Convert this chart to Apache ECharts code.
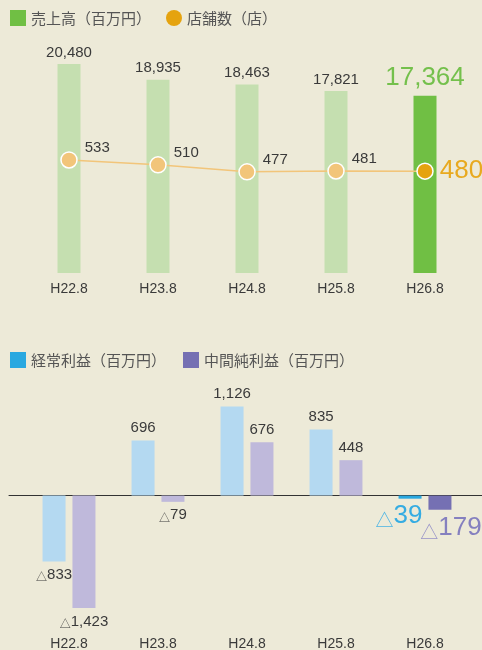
<!DOCTYPE html>
<html>
<head>
<meta charset="utf-8">
<script src="https://cdn.jsdelivr.net/npm/echarts@6/dist/echarts.min.js"></script>
<style>
  html, body { margin: 0; padding: 0; background: #edead8; }
  #chart { width: 482px; height: 650px; }
</style>
</head>
<body>
<div id="chart"></div>
<script>
const categories = ['H22.8', 'H23.8', 'H24.8', 'H25.8', 'H26.8'];
const sales = [20480, 18935, 18463, 17821, 17364];
const stores = [533, 510, 477, 481, 480];
const ordinaryProfit = [-833, 696, 1126, 835, -39];
const netProfit = [-1423, -79, 676, 448, -179];

const NUM_FONT = "'Liberation Sans', Arial, sans-serif";
const CJK_FONT = "'Noto Sans CJK JP', 'Noto Sans', sans-serif";
const last = categories.length - 1;

const fmt = (v) => Math.abs(v).toLocaleString('en-US');
// 負の値は △ 付き
const profitLabel = (p) => p.value < 0 ? '{t|△}{v|' + fmt(p.value) + '}' : '{v|' + fmt(p.value) + '}';

const smallRich = {
  t: { fontFamily: CJK_FONT, fontSize: 11, color: '#3a3a3a', lineHeight: 16, verticalAlign: 'bottom' },
  v: { fontFamily: NUM_FONT, fontSize: 15, color: '#3a3a3a', lineHeight: 16, verticalAlign: 'bottom' },
};
const bigRich = (color, triColor) => ({
  t: { fontFamily: CJK_FONT, fontSize: 18, color: triColor, lineHeight: 26, verticalAlign: 'bottom' },
  v: { fontFamily: NUM_FONT, fontSize: 26, color: color, lineHeight: 26, verticalAlign: 'bottom' },
});

const salesData = sales.map((v, i) => i === last
  ? { value: v, label: { fontSize: 26, color: '#74c04c', distance: 5 } }
  : { value: v, itemStyle: { color: '#c5dfb0' } });

const storesData = stores.map((v, i) => i === last
  ? { value: v, label: { fontSize: 26, color: '#e8a91f', offset: [0, 0], distance: 6 } }
  : { value: v, itemStyle: { color: '#f2c57a' } });

const profitData = (arr, light, bigColor, triColor, dx, dist) => arr.map((v, i) => {
  const item = { value: v, label: { position: v < 0 ? 'bottom' : 'top' } };
  if (i === last) {
    item.label.rich = bigRich(bigColor, triColor);
    item.label.offset = [dx, 0];
    item.label.distance = dist;
  } else {
    item.itemStyle = { color: light };
  }
  return item;
});

const chart = echarts.init(document.getElementById('chart'), null, { renderer: 'canvas' });

chart.setOption({
  backgroundColor: '#edead8',
  animation: false,
  legend: [
    {
      data: ['売上高（百万円）', { name: '店舗数（店）', icon: 'circle' }],
      left: 10, top: 10, padding: 0, itemWidth: 16, itemHeight: 16, itemGap: 15,
      icon: 'rect', itemStyle: { borderWidth: 0 },
      textStyle: { fontFamily: CJK_FONT, fontSize: 15, color: '#555' },
    },
    {
      data: ['経常利益（百万円）', '中間純利益（百万円）'],
      left: 10, top: 352, padding: 0, itemWidth: 16, itemHeight: 16, itemGap: 17,
      icon: 'rect',
      textStyle: { fontFamily: CJK_FONT, fontSize: 15, color: '#555' },
    },
  ],
  grid: [
    { left: 24.5, right: 12.5, top: 28, height: 245, outerBoundsMode: 'none' },
    { left: 24.5, right: 12.5, top: 377, height: 253, outerBoundsMode: 'none' },
    { left: 9, right: 0, top: 377, height: 253, outerBoundsMode: 'none' },
  ],
  xAxis: [
    {
      gridIndex: 0, type: 'category', data: categories,
      axisLine: { show: false }, axisTick: { show: false },
      axisLabel: { margin: 9, fontFamily: NUM_FONT, fontSize: 14, color: '#3a3a3a' },
    },
    {
      gridIndex: 1, type: 'category', data: categories,
      axisLine: { show: false, onZero: false }, axisTick: { show: false },
      axisLabel: { margin: 7, fontFamily: NUM_FONT, fontSize: 14, color: '#3a3a3a' },
    },
    {
      // ゼロライン
      gridIndex: 2, type: 'value', min: 0, max: 1,
      axisLine: { show: true, onZero: true, lineStyle: { color: '#333', width: 1 } },
      axisTick: { show: false }, axisLabel: { show: false }, splitLine: { show: false },
    },
  ],
  yAxis: [
    { gridIndex: 0, type: 'value', min: 0, max: 24000, show: false, splitLine: { show: false } },
    { gridIndex: 0, type: 'value', min: 0, max: 1155, show: false, splitLine: { show: false } },
    { gridIndex: 1, type: 'value', min: -1700, max: 1500, show: false, splitLine: { show: false } },
    { gridIndex: 2, type: 'value', min: -1700, max: 1500, show: false, splitLine: { show: false } },
  ],
  series: [
    {
      name: '売上高（百万円）', type: 'bar', xAxisIndex: 0, yAxisIndex: 0,
      barWidth: 23, data: salesData,
      itemStyle: { color: '#70bf44' },
      label: {
        show: true, position: 'top', distance: 4,
        fontFamily: NUM_FONT, fontSize: 15, color: '#3a3a3a',
        formatter: (p) => fmt(p.value),
      },
    },
    {
      name: '店舗数（店）', type: 'line', xAxisIndex: 0, yAxisIndex: 1,
      data: storesData, symbol: 'circle', symbolSize: 16,
      itemStyle: { color: '#e5a30f', borderColor: '#fff', borderWidth: 1.5 },
      lineStyle: { color: '#f2c57a', width: 1.5 },
      label: {
        show: true, position: 'right', distance: 7, offset: [0, -12],
        fontFamily: NUM_FONT, fontSize: 15, color: '#3a3a3a',
      },
      z: 3,
    },
    {
      name: '経常利益（百万円）', type: 'bar', xAxisIndex: 1, yAxisIndex: 2,
      barWidth: 23, barGap: '30%',
      data: profitData(ordinaryProfit, '#b4d9f1', '#35ace2', '#4bb4e4', -11, 4),
      itemStyle: { color: '#29a8e0' },
      label: { show: true, distance: 5, formatter: profitLabel, rich: smallRich },
    },
    {
      name: '中間純利益（百万円）', type: 'bar', xAxisIndex: 1, yAxisIndex: 2,
      barWidth: 23, barGap: '30%',
      data: profitData(netProfit, '#bfb9db', '#8580bf', '#9893c8', 11, 5),
      itemStyle: { color: '#7570b3' },
      label: { show: true, distance: 5, formatter: profitLabel, rich: smallRich },
    },
  ],
});
</script>
</body>
</html>
